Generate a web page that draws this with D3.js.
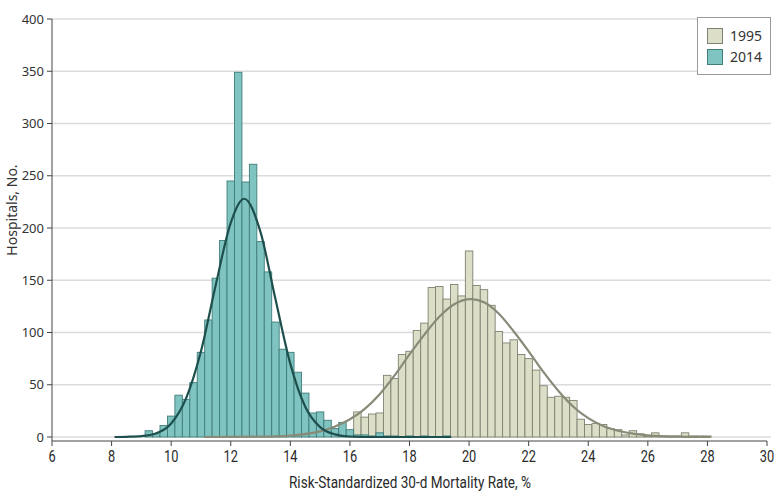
<!DOCTYPE html>
<html>
<head>
<meta charset="utf-8">
<script src="https://cdn.jsdelivr.net/npm/d3@7"></script>
<style>
  body { margin: 0; background: #fff; }
  svg { display: block; }
  .grid line { stroke: #dcdcdc; stroke-width: 1.5; }
  .ytick text { font-family: "Noto Sans", "Open Sans", sans-serif; font-size: 13px; fill: #333; }
  .xtick text, .xtitle { font-family: "Roboto", "Liberation Sans", sans-serif; fill: #2a2a2a; }
  .ytitle { font-family: "Noto Sans", "Open Sans", sans-serif; font-size: 14px; fill: #333; }
  .legend text { font-family: "Noto Sans", "Open Sans", sans-serif; font-size: 14px; fill: #333; }
</style>
</head>
<body>
<svg id="chart" width="780" height="499"></svg>
<script>
// histogram bins, 0.25 wide, keyed by bin centre
const bins2014 = [9.25, 9.5, 9.75, 10, 10.25, 10.5, 10.75, 11, 11.25, 11.5, 11.75, 12, 12.25, 12.5, 12.75, 13,
   13.25, 13.5, 13.75, 14, 14.25, 14.5, 14.75, 15, 15.25, 15.5, 15.75, 16, 16.25, 16.5, 16.75, 17, 17.25, 17.5,
   18, 18.5, 19.25];
const counts2014 = [6, 3, 11, 20, 40, 36, 52, 81, 112, 152, 188, 245, 349, 244, 261, 187,
   158, 110, 84, 81, 62, 42, 23, 24, 16, 8, 14, 7, 2, 2, 1, 4, 1, 1,
   1, 1, 1];

const bins1995 = [16.25, 16.5, 16.75, 17, 17.25, 17.5, 17.75, 18, 18.25, 18.5, 18.75, 19, 19.25, 19.5, 19.75, 20,
   20.25, 20.5, 20.75, 21, 21.25, 21.5, 21.75, 22, 22.25, 22.5, 22.75, 23, 23.25, 23.5, 23.75, 24,
   24.25, 24.5, 24.75, 25, 25.25, 25.5, 25.75, 26, 26.25, 26.5, 26.75, 27, 27.25, 27.5, 27.75, 28];
const counts1995 = [24, 19, 22, 23, 59, 56, 79, 82, 102, 109, 143, 144, 132, 146, 135, 178,
   145, 141, 126, 101, 90, 93, 79, 75, 64, 49, 38, 39, 38, 35, 17, 12,
   13, 12, 8, 7, 2, 6, 3, 1, 4, 1, 1, 1, 4, 1, 1, 1];

// fitted normal curves
const curve2014 = [[8.1, 0], [8.5, 0.2], [9, 0.8], [9.5, 3.5], [10, 13], [10.5, 37], [11, 82], [11.5, 146],
   [12, 205], [12.45, 228], [13, 196], [13.5, 132], [14, 70], [14.5, 29], [15, 9.5], [15.5, 2.5], [16, 0.5],
   [17, 0], [19.4, 0]];
const curve1995 = [[11.1, 0], [13, 0.3], [14, 1.4], [15, 5.4], [15.5, 10], [16, 17], [16.5, 27], [17, 41],
   [17.5, 59], [18, 79], [18.5, 98], [19, 115], [19.5, 127], [20.05, 132], [20.5, 129], [21, 118], [21.5, 101],
   [22, 82], [22.5, 62], [23, 44], [23.5, 29], [24, 18], [24.5, 10.5], [25, 6], [25.5, 3.2], [26, 1.6],
   [27, 0.3], [28.1, 0]];

const xTicks = [6, 8, 10, 12, 14, 16, 18, 20, 22, 24, 26, 28, 30];
const yTicks = [0, 50, 100, 150, 200, 250, 300, 350, 400];
const years = ["1995", "2014"];
const binWidth = 0.25;

const svg = d3.select("#chart");
const x = d3.scaleLinear().domain([6, 30]).range([52, 767]);
const y = d3.scaleLinear().domain([0, 400]).range([437, 19]);
const axisY = 441;

// gridlines
svg.append("g").attr("class", "grid")
   .selectAll("line").data(yTicks).enter().append("line")
   .attr("x1", 52).attr("x2", 771)
   .attr("y1", d => y(d)).attr("y2", d => y(d));

// bars
function drawBars(bins, counts, fill, stroke) {
   svg.append("g").selectAll("rect").data(bins).enter().append("rect")
      .attr("x", d => x(d - binWidth / 2))
      .attr("width", d => x(d + binWidth / 2) - x(d - binWidth / 2))
      .attr("y", (d, i) => y(counts[i]))
      .attr("height", (d, i) => y(0) - y(counts[i]))
      .attr("fill", fill)
      .attr("stroke", stroke)
      .attr("stroke-width", 0.9);
}
drawBars(bins1995, counts1995, "#dcdec7", "#7f8270");
drawBars(bins2014, counts2014, "#80c4c1", "#3f7d7a");

// curves
const line = d3.line().x(d => x(d[0])).y(d => y(d[1])).curve(d3.curveMonotoneX);
svg.append("path").datum(curve1995).attr("d", line)
   .attr("fill", "none").attr("stroke", "#878b78").attr("stroke-width", 2.2);
svg.append("path").datum(curve2014).attr("d", line)
   .attr("fill", "none").attr("stroke", "#1d4f4c").attr("stroke-width", 2.2);

// y axis
const yAxis = svg.append("g");
yAxis.append("line").attr("x1", 52).attr("x2", 52).attr("y1", y(400)).attr("y2", axisY)
   .attr("stroke", "#444").attr("stroke-width", 1);
const yt = yAxis.selectAll(".ytick").data(yTicks).enter().append("g").attr("class", "ytick");
yt.append("line").attr("x1", 47).attr("x2", 52).attr("y1", d => y(d)).attr("y2", d => y(d))
   .attr("stroke", "#444");
yt.append("text").attr("x", 44).attr("y", d => y(d)).attr("dy", "0.35em")
   .attr("text-anchor", "end").text(d => d);

// x axis
const xAxis = svg.append("g");
xAxis.append("line").attr("x1", 52).attr("x2", 767).attr("y1", axisY).attr("y2", axisY)
   .attr("stroke", "#444");
const xt = xAxis.selectAll(".xtick").data(xTicks).enter().append("g").attr("class", "xtick");
xt.append("line").attr("x1", d => x(d)).attr("x2", d => x(d)).attr("y1", axisY).attr("y2", axisY + 5)
   .attr("stroke", "#444");
xt.append("text").attr("transform", d => "translate(" + x(d) + ",462) scale(0.8,1)")
   .attr("text-anchor", "middle")
   .style("font-size", "16px").text(d => d);

// titles
svg.append("text").attr("class", "xtitle").attr("x", 410).attr("y", 488)
   .attr("text-anchor", "middle").style("font-size", "16px")
   .attr("textLength", 242).attr("lengthAdjust", "spacingAndGlyphs")
   .text("Risk-Standardized 30-d Mortality Rate, %");
svg.append("text").attr("class", "ytitle")
   .attr("transform", "translate(17,210) rotate(-90)")
   .attr("text-anchor", "middle").text("Hospitals, No.");

// legend
const legend = svg.append("g").attr("class", "legend");
legend.append("rect").attr("x", 697.5).attr("y", 17.5).attr("width", 73).attr("height", 57)
   .attr("fill", "#fff").attr("stroke", "#9a9a9a");
const swatch = [["#dcdec7", "#7f8270"], ["#80c4c1", "#3f7d7a"]];
years.forEach((yr, i) => {
   legend.append("rect").attr("x", 707.5).attr("y", 28.5 + i * 21).attr("width", 15).attr("height", 15)
      .attr("fill", swatch[i][0]).attr("stroke", swatch[i][1]);
   legend.append("text").attr("x", 730).attr("y", 41 + i * 21).text(yr);
});
</script>
</body>
</html>
